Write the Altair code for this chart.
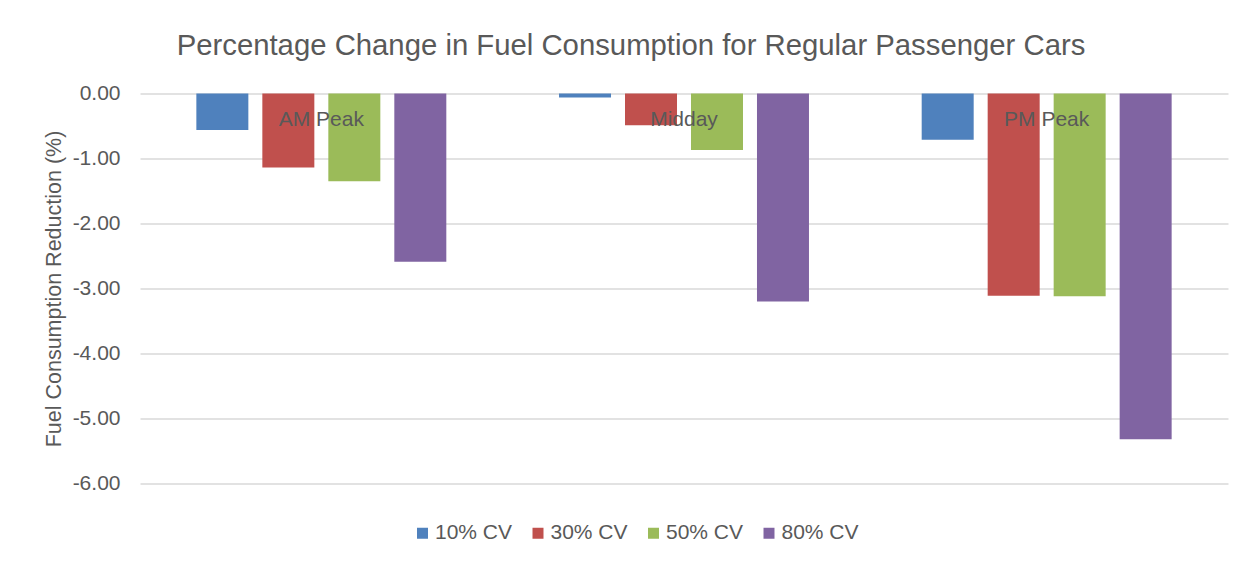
import altair as alt
import pandas as pd

periods = ["AM Peak", "Midday", "PM Peak"]
series = ["10% CV", "30% CV", "50% CV", "80% CV"]
values_am = [-0.56, -1.14, -1.35, -2.59]
values_midday = [-0.06, -0.49, -0.87, -3.20]
values_pm = [-0.71, -3.11, -3.12, -5.32]
colors = ["#4F81BD", "#C0504D", "#9BBB59", "#8064A2"]
y_ticks = [0, -1, -2, -3, -4, -5, -6]

rows = []
for p, vals in zip(periods, [values_am, values_midday, values_pm]):
    for s, v in zip(series, vals):
        rows.append({"period": p, "series": s, "value": v})
df = pd.DataFrame(rows)
lab = pd.DataFrame({"period": periods})

FONT = "Liberation Sans"
GRAY = "#595959"

x_scale = alt.Scale(domain=periods, paddingInner=0, paddingOuter=0)

bars = alt.Chart(df).mark_bar().encode(
    x=alt.X("period:N", scale=x_scale, axis=None, sort=periods),
    xOffset=alt.XOffset("series:N", sort=series,
                        scale=alt.Scale(paddingInner=0.212, paddingOuter=0.854)),
    y=alt.Y("value:Q",
            scale=alt.Scale(domain=[-6, 0], nice=False, zero=False),
            axis=alt.Axis(values=y_ticks, title="Fuel Consumption Reduction (%)",
                          labelExpr="replace(format(datum.value, '.2f'), '\u2212', '-')",
                          labelFontSize=21, labelColor=GRAY, labelFont=FONT,
                          labelPadding=20, ticks=False, domain=False,
                          gridColor="#D9D9D9", gridWidth=1.5,
                          titleFontSize=21.5, titleFont=FONT, titleColor=GRAY,
                          titleFontWeight="normal", titlePadding=7)),
    color=alt.Color("series:N", sort=series,
                    scale=alt.Scale(domain=series, range=colors),
                    legend=alt.Legend(title=None, orient="none", direction="horizontal",
                                      legendX=272, legendY=429, symbolType="square",
                                      symbolSize=121, symbolStrokeWidth=0,
                                      labelFontSize=21, labelFont=FONT, labelColor=GRAY,
                                      labelOffset=2, columnPadding=14.5)),
)

labels = alt.Chart(lab).mark_text(fontSize=21, font=FONT, color=GRAY, baseline="middle", dy=26).encode(
    x=alt.X("period:N", scale=x_scale, sort=periods),
    y=alt.datum(0),
    text="period:N",
)

chart = alt.layer(bars, labels).properties(
    width=1088,
    height=390,
    autosize=alt.AutoSizeParams(type="none"),
    padding={"left": 132, "top": 85.5, "right": 19, "bottom": 70},
    title=alt.TitleParams("Percentage Change in Fuel Consumption for Regular Passenger Cars",
                          fontSize=29.3, font=FONT, color=GRAY, fontWeight="normal",
                          anchor="middle", dx=-53, offset=21),
).configure_view(stroke=None)

chart.save("out.html", embed_options={"renderer": "svg", "actions": False})
